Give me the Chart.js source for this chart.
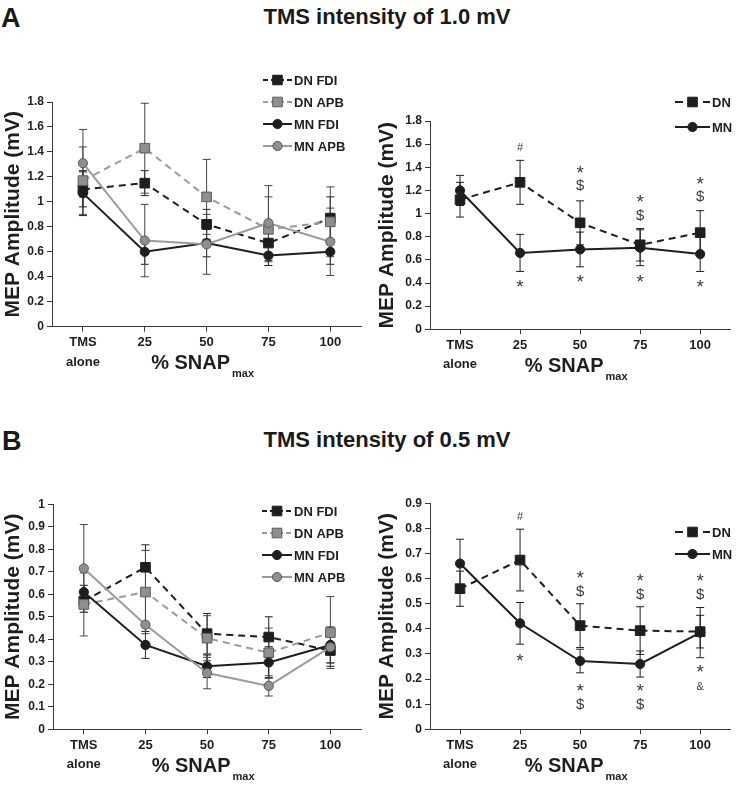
<!DOCTYPE html>
<html>
<head>
<meta charset="utf-8">
<script src="https://cdn.jsdelivr.net/npm/chart.js@4.4.0/dist/chart.umd.min.js"></script>
<style>
  body { margin: 0; background: #fff; width: 738px; height: 785px; position: relative; overflow: hidden;
         font-family: 'Liberation Sans', Arial, sans-serif; }
  .lbl { position: absolute; font-weight: bold; color: #1a1a1a; line-height: 1; white-space: nowrap; }
  canvas { position: absolute; }
</style>
</head>
<body>
<div class="lbl" style="left:1px; top:5px; font-size:27px;">A</div>
<div class="lbl" style="left:237px; top:6px; width:300px; text-align:center; font-size:22px;">TMS intensity of 1.0 mV</div>
<div class="lbl" style="left:2px; top:428px; font-size:27px;">B</div>
<div class="lbl" style="left:237px; top:429px; width:300px; text-align:center; font-size:22px;">TMS intensity of 0.5 mV</div>

<canvas id="a1" width="369" height="350" style="left:0; top:40px;"></canvas>
<canvas id="a2" width="369" height="350" style="left:369px; top:40px;"></canvas>
<canvas id="b1" width="369" height="345" style="left:0; top:440px;"></canvas>
<canvas id="b2" width="369" height="345" style="left:369px; top:440px;"></canvas>

<script>
// categories (x axis)
const categories = [['TMS', 'alone'], '25', '50', '75', '100'];

// A - TMS intensity of 1.0 mV, per muscle (mean / error)
const aDnFdi = [1.10, 1.15, 0.82, 0.67, 0.87];
const aDnFdiErr = [0.14, 0.10, 0.12, 0.12, 0.17];
const aDnApb = [1.17, 1.43, 1.04, 0.78, 0.84];
const aDnApbErr = [0.27, 0.36, 0.30, 0.26, 0.28];
const aMnFdi = [1.07, 0.60, 0.67, 0.57, 0.60];
const aMnFdiErr = [0.18, 0.10, 0.11, 0.08, 0.10];
const aMnApb = [1.31, 0.69, 0.66, 0.83, 0.68];
const aMnApbErr = [0.27, 0.29, 0.24, 0.30, 0.27];

// A - pooled
const aDn = [1.12, 1.27, 0.92, 0.73, 0.835];
const aDnErr = [0.15, 0.19, 0.19, 0.14, 0.19];
const aMn = [1.20, 0.66, 0.69, 0.705, 0.65];
const aMnErr = [0.13, 0.16, 0.15, 0.155, 0.15];
// [category index, value, mark]
const aNotes = [
  [1, 1.57, '#'], [1, 0.41, '*'],
  [2, 1.39, '*'], [2, 1.245, '$'], [2, 0.45, '*'],
  [3, 1.14, '*'], [3, 0.99, '$'], [3, 0.45, '*'],
  [4, 1.30, '*'], [4, 1.15, '$'], [4, 0.41, '*']
];

// B - TMS intensity of 0.5 mV, per muscle
const bDnFdi = [0.57, 0.72, 0.425, 0.41, 0.35];
const bDnFdiErr = [0.05, 0.10, 0.09, 0.09, 0.07];
const bDnApb = [0.555, 0.61, 0.405, 0.34, 0.43];
const bDnApbErr = [0.14, 0.185, 0.10, 0.11, 0.16];
const bMnFdi = [0.61, 0.375, 0.28, 0.297, 0.375];
const bMnFdiErr = [0.03, 0.06, 0.05, 0.07, 0.08];
const bMnApb = [0.715, 0.465, 0.25, 0.193, 0.365];
const bMnApbErr = [0.195, 0.15, 0.07, 0.045, 0.07];

// B - pooled
const bDn = [0.56, 0.674, 0.413, 0.393, 0.389];
const bDnErr = [0.07, 0.123, 0.087, 0.095, 0.065];
const bMn = [0.66, 0.422, 0.272, 0.26, 0.385];
const bMnErr = [0.097, 0.083, 0.047, 0.052, 0.10];
const bNotes = [
  [1, 0.847, '#'], [1, 0.292, '*'],
  [2, 0.624, '*'], [2, 0.552, '$'], [2, 0.173, '*'], [2, 0.10, '$'],
  [3, 0.611, '*'], [3, 0.538, '$'], [3, 0.173, '*'], [3, 0.10, '$'],
  [4, 0.611, '*'], [4, 0.538, '$'], [4, 0.247, '*'], [4, 0.173, '&']
];

const FONT = "'Liberation Sans', Arial, sans-serif";
const INK = '#1e1e1e';
const GREY = '#9b9b9b';

function line(label, data, err, dashed, square, grey, order) {
  return {
    label: label, data: data, err: err, order: order,
    borderColor: grey ? GREY : INK,
    borderWidth: 2,
    borderDash: dashed ? [7, 5] : [],
    tension: 0,
    pointStyle: square ? 'rect' : 'circle',
    pointRadius: square ? 6.8 : 4.6,
    pointBackgroundColor: grey ? '#8f8f8f' : INK,
    pointBorderColor: grey ? '#5a5a5a' : INK,
    pointBorderWidth: 1,
    errColor: grey ? '#444' : INK
  };
}

// error bars, stat marks, legend and the subscripted x title
const extras = {
  id: 'extras',
  beforeDatasetsDraw(chart) {
    const ctx = chart.ctx, xs = chart.scales.x, ys = chart.scales.y;
    ctx.save();
    ctx.lineWidth = 1;
    chart.data.datasets.forEach(ds => {
      ctx.strokeStyle = ds.errColor;
      ds.data.forEach((v, i) => {
        const x = xs.getPixelForValue(i);
        const hi = ys.getPixelForValue(v + ds.err[i]);
        const lo = ys.getPixelForValue(v - ds.err[i]);
        ctx.beginPath();
        ctx.moveTo(x, hi); ctx.lineTo(x, lo);
        ctx.moveTo(x - 4, hi); ctx.lineTo(x + 4, hi);
        ctx.moveTo(x - 4, lo); ctx.lineTo(x + 4, lo);
        ctx.stroke();
      });
    });
    ctx.restore();
  },
  afterDraw(chart, args, opts) {
    const ctx = chart.ctx, xs = chart.scales.x, ys = chart.scales.y, a = chart.chartArea;
    ctx.save();
    // stat marks
    ctx.fillStyle = '#3a3a3a';
    ctx.textAlign = 'center';
    ctx.textBaseline = 'alphabetic';
    (opts.notes || []).forEach(n => {
      const mark = n[2];
      const size = mark === '*' ? 19 : (mark === '$' ? 15 : 11);
      const k = mark === '*' ? 0.58 : 0.35;
      ctx.font = 'normal ' + size + 'px ' + FONT;
      ctx.fillText(mark, xs.getPixelForValue(n[0]), ys.getPixelForValue(n[1]) + k * size);
    });
    // legend
    const L = opts.legend;
    chart.data.datasets.forEach((ds, i) => {
      const y = L.y + i * L.dy;
      ctx.strokeStyle = ds.borderColor;
      ctx.lineWidth = 2;
      ctx.setLineDash(ds.borderDash.length ? L.dash : []);
      ctx.beginPath(); ctx.moveTo(L.x0, y); ctx.lineTo(L.x1, y); ctx.stroke();
      ctx.setLineDash([]);
      ctx.fillStyle = ds.pointBackgroundColor;
      ctx.strokeStyle = ds.pointBorderColor;
      ctx.lineWidth = 1;
      Chart.helpers.drawPoint(ctx, { pointStyle: ds.pointStyle, radius: ds.pointRadius, borderWidth: 1, rotation: 0 },
        (L.x0 + L.x1) / 2, y);
      ctx.fillStyle = INK;
      ctx.font = 'bold 13px ' + FONT;
      ctx.textAlign = 'left';
      ctx.textBaseline = 'middle';
      ctx.fillText(ds.label, L.x1 + 2, y + 1);
    });
    // x title: % SNAPmax
    ctx.fillStyle = INK;
    ctx.textBaseline = 'alphabetic';
    ctx.textAlign = 'left';
    ctx.font = 'bold 20px ' + FONT;
    const main = '% SNAP';
    const w1 = ctx.measureText(main).width;
    ctx.font = 'bold 11px ' + FONT;
    const w2 = ctx.measureText('max').width;
    const x0 = (a.left + a.right) / 2 - (w1 + w2 + 2) / 2 - 4;
    const base = a.bottom + 42.5;
    ctx.font = 'bold 20px ' + FONT;
    ctx.fillText(main, x0, base);
    ctx.font = 'bold 11px ' + FONT;
    ctx.fillText('max', x0 + w1 + 2, base + 8);
    ctx.restore();
  }
};

function panel(id, datasets, yMax, yStep, area, titlePad, legend, notes) {
  const cv = document.getElementById(id);
  const W = cv.width, H = cv.height;
  return new Chart(cv, {
    type: 'line',
    data: { labels: categories, datasets: datasets },
    options: {
      responsive: false,
      animation: false,
      layout: { padding: { left: 0, top: area.top, right: W - area.right, bottom: 0 } },
      plugins: {
        legend: { display: false },
        tooltip: { enabled: false },
        extras: { legend: legend, notes: notes }
      },
      scales: {
        x: {
          type: 'category',
          offset: true,
          grid: { offset: false, drawOnChartArea: false, drawTicks: true, tickLength: 5, color: '#3a3a3a' },
          border: { color: '#3a3a3a', width: 1 },
          ticks: { color: INK, font: { family: FONT, size: 13, weight: 'bold', lineHeight: 1.5 },
                   padding: 1, maxRotation: 0, autoSkip: false },
          afterFit(s) { s.height = H - area.bottom; }
        },
        y: {
          min: 0, max: yMax,
          grid: { drawOnChartArea: false, drawTicks: true, tickLength: 5, color: '#3a3a3a' },
          border: { color: '#3a3a3a', width: 1 },
          ticks: { stepSize: yStep, color: INK, font: { family: FONT, size: 12, weight: 'bold' }, padding: 3,
                   callback: v => String(Math.round(v * 10) / 10) },
          title: { display: true, text: 'MEP Amplitude (mV)', color: INK,
                   font: { family: FONT, size: 21, weight: 'bold' }, padding: { top: titlePad, bottom: 0 } },
          afterFit(s) { s.width = area.left; }
        }
      }
    },
    plugins: [extras]
  });
}

const legendWide = { x0: 263, x1: 292, dy: 22, dash: [5, 3] };
const legendShort = { x0: 306, x1: 341, dy: 22, dash: [8, 6] };

panel('a1', [
  line('DN FDI', aDnFdi, aDnFdiErr, true, true, false, 3),
  line('DN APB', aDnApb, aDnApbErr, true, true, true, 2),
  line('MN FDI', aMnFdi, aMnFdiErr, false, false, false, 1),
  line('MN APB', aMnApb, aMnApbErr, false, false, true, 0)
], 1.8, 0.2, { left: 52, top: 62, right: 367, bottom: 286.7 }, 1,
  Object.assign({}, legendWide, { y: 40 }), []);

panel('a2', [
  line('DN', aDn, aDnErr, true, true, false, 0),
  line('MN', aMn, aMnErr, false, false, false, 1)
], 1.8, 0.2, { left: 61, top: 81, right: 367, bottom: 289.3 }, 6,
  Object.assign({}, legendShort, { y: 62, dy: 25 }), aNotes);

panel('b1', [
  line('DN FDI', bDnFdi, bDnFdiErr, true, true, false, 3),
  line('DN APB', bDnApb, bDnApbErr, true, true, true, 2),
  line('MN FDI', bMnFdi, bMnFdiErr, false, false, false, 1),
  line('MN APB', bMnApb, bMnApbErr, false, false, true, 0)
], 1.0, 0.1, { left: 53, top: 64.3, right: 367, bottom: 289.3 }, 1,
  Object.assign({}, legendWide, { x0: 262, y: 71 }), []);

panel('b2', [
  line('DN', bDn, bDnErr, true, true, false, 0),
  line('MN', bMn, bMnErr, false, false, false, 1)
], 0.9, 0.1, { left: 61, top: 63.3, right: 367, bottom: 289.3 }, 6,
  Object.assign({}, legendShort, { y: 92 }), bNotes);
</script>
</body>
</html>
